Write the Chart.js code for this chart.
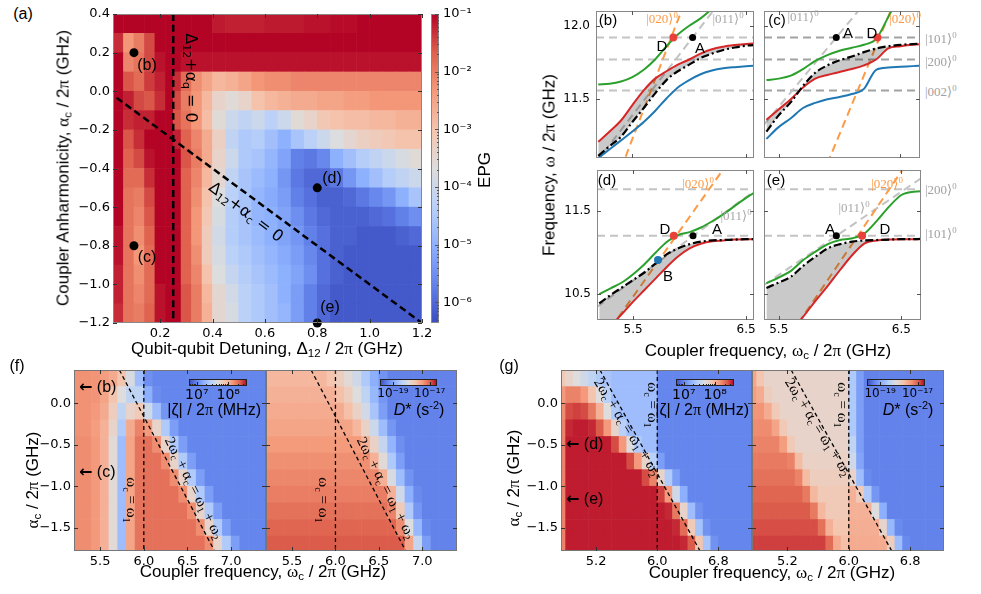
<!DOCTYPE html>
<html>
<head>
<meta charset="utf-8">
<script src="https://cdn.jsdelivr.net/npm/chart.js@4.4.1/dist/chart.umd.min.js"></script>
<style>
  html, body { margin: 0; padding: 0; background: #fff; }
  #fig { position: relative; width: 981px; height: 594px; overflow: hidden; font-family: 'Liberation Sans', Arial, sans-serif; }
  #fig canvas { position: absolute; }
  .t { position: absolute; white-space: nowrap; line-height: 1; color: #000; }
  .g { font-family: 'Liberation Serif', 'DejaVu Serif', serif; }
  sub { font-size: 68%; vertical-align: -0.3em; line-height: 0; }
  sup { font-size: 68%; vertical-align: 0.55em; line-height: 0; }
</style>
</head>
<body>
<div id="fig"></div>
<script>
// ---------- (a) EPG map ----------
const epgDetuningEdges = [0.02, 0.06, 0.10, 0.14, 0.18, 0.22, 0.25, 0.28, 0.32, 0.36, 0.40, 0.45, 0.50, 0.55, 0.60, 0.65, 0.70, 0.75, 0.80, 0.85, 0.90, 0.95, 1.00, 1.05, 1.10, 1.15, 1.20];
const epgAnharmEdges = [0.4, 0.3, 0.2, 0.1, 0.0, -0.1, -0.2, -0.3, -0.4, -0.5, -0.6, -0.7, -0.8, -0.9, -1.0, -1.1, -1.2];
// log10(EPG), one row per anharmonicity band (top to bottom)
const epgLog10 = [
  [-1, -1, -1, -1, -1, -1, -1, -1, -1, -1, -1.15, -1.2, -1.2, -1.2, -1.15, -1.15, -1.15, -1.1, -1.1, -1.05, -1.05, -1, -1, -1, -1, -1],
  [-1.3, -2.3, -2.0, -1.5, -1, -1, -1, -1, -1, -1, -1, -1, -1, -1, -1, -1, -1, -1, -1, -1, -1, -1, -1, -1, -1, -1],
  [-1, -2.1, -1.9, -1.5, -1.1, -1, -1, -1.1, -1.1, -1.1, -1.1, -1.1, -1.1, -1.1, -1.1, -1.1, -1.1, -1.1, -1.1, -1.1, -1.1, -1.1, -1.1, -1.1, -1.1, -1.1],
  [-1, -1.6, -1.8, -1.4, -1.2, -1, -1.3, -1.8, -2.2, -2.5, -2.8, -2.7, -2.5, -2.3, -2.2, -2.2, -2.1, -2.1, -2.1, -2.1, -2.1, -2.1, -2.1, -2.1, -2.1, -2.1],
  [-1, -1.2, -1.5, -1.6, -1.3, -1, -1.5, -2.0, -2.3, -2.8, -3.4, -3.6, -3.4, -3.0, -2.8, -2.7, -2.6, -2.6, -2.5, -2.5, -2.4, -2.4, -2.3, -2.3, -2.3, -2.3],
  [-1, -1.3, -1.2, -1.2, -1, -1, -1.6, -1.9, -2.3, -2.9, -3.6, -4.0, -4.2, -4.0, -4.3, -4.0, -3.6, -3.4, -3.1, -3.0, -2.9, -2.9, -2.8, -2.8, -2.7, -2.7],
  [-1, -1.6, -1.3, -1, -1, -1, -1.2, -1.7, -2.1, -2.6, -3.3, -4.2, -4.5, -4.4, -4.7, -5.0, -4.6, -4.3, -4.0, -3.7, -3.5, -3.3, -3.2, -3.1, -3.0, -3.0],
  [-1, -1.7, -1.5, -1.1, -1, -1, -1, -1.6, -2.0, -2.6, -3.4, -4.0, -4.5, -4.6, -4.9, -5.2, -5.7, -5.8, -5.6, -5.0, -4.7, -4.4, -4.2, -4.0, -3.8, -3.6],
  [-1, -1.8, -1.8, -1.3, -1, -1, -1, -1.7, -2.1, -2.8, -3.5, -4.2, -4.6, -4.8, -5.0, -5.4, -5.8, -6.0, -6.0, -5.8, -5.4, -5.0, -4.7, -4.4, -4.2, -4.0],
  [-1, -1.9, -2.0, -1.5, -1, -1, -1, -1.7, -2.2, -3.0, -3.7, -4.3, -4.6, -4.9, -5.1, -5.3, -5.7, -5.9, -6.1, -6.1, -6.0, -5.8, -5.6, -5.4, -5.0, -4.6],
  [-1, -1.9, -2.1, -1.6, -1, -1, -1, -1.7, -2.3, -3.1, -3.8, -4.4, -4.6, -4.9, -5.0, -5.2, -5.5, -5.8, -6.0, -6.1, -6.1, -6.1, -6.0, -5.9, -5.7, -5.5],
  [-1.1, -1.9, -2.2, -1.7, -1, -1, -1, -1.7, -2.3, -3.2, -3.9, -4.4, -4.6, -4.8, -5.0, -5.2, -5.4, -5.7, -5.9, -6.1, -6.1, -6.2, -6.2, -6.2, -6.1, -6.0],
  [-1.1, -1.9, -2.3, -1.8, -1, -1, -1, -1.7, -2.2, -3.2, -3.8, -4.3, -4.5, -4.7, -4.9, -5.1, -5.3, -5.6, -5.9, -6.1, -6.2, -6.2, -6.2, -6.2, -6.2, -6.2],
  [-1.2, -1.9, -2.2, -1.8, -1, -1, -1, -1.7, -2.1, -3.0, -3.7, -4.1, -4.4, -4.6, -4.8, -5.0, -5.2, -5.5, -5.9, -6.1, -6.2, -6.2, -6.2, -6.2, -6.2, -6.2],
  [-1.2, -1.9, -2.1, -1.8, -1.1, -1, -1, -1.6, -2.0, -2.8, -3.5, -3.9, -4.3, -4.5, -4.7, -5.0, -5.3, -5.7, -6.0, -6.2, -6.2, -6.2, -6.2, -6.2, -6.2, -6.2],
  [-1.3, -1.9, -2.0, -1.7, -1.1, -1, -1, -1.6, -2.0, -2.7, -3.5, -3.8, -4.3, -4.5, -4.7, -4.9, -5.3, -5.7, -6.0, -6.2, -6.2, -6.2, -6.2, -6.2, -6.2, -6.2]
];
const epgRange = [-6.36, -1];
const epgTickExp = [-1, -2, -3, -4, -5, -6];
const detuningTicks = [0.2, 0.4, 0.6, 0.8, 1.0, 1.2];
const anharmTicksA = [0.4, 0.2, 0.0, -0.2, -0.4, -0.6, -0.8, -1.0, -1.2];
const qubitLineX = [0.25, 0.25], qubitLineY = [0.4, -1.2];
const couplerLineX = [0.0, 1.2], couplerLineY = [0.0, -1.2];
const workPointX = [0.1, 0.1, 0.8, 0.8], workPointY = [0.2, -0.8, -0.5, -1.2];

// ---------- (b)-(e) spectra ----------
const gridBD = [5.2, 5.3, 5.4, 5.5, 5.6, 5.7, 5.8, 5.9, 6.0, 6.1, 6.2, 6.3, 6.4, 6.5, 6.6];
const gridCE = [5.4, 5.5, 5.6, 5.7, 5.8, 5.9, 6.0, 6.1, 6.2, 6.3, 6.4, 6.5, 6.6, 6.7];
const greenB = [11.60, 11.605, 11.62, 11.65, 11.70, 11.77, 11.86, 11.94, 12.00, 12.05, 12.115, 12.19, 12.27, 12.35, 12.43];
const redB   = [11.21, 11.28, 11.355, 11.46, 11.56, 11.64, 11.69, 11.735, 11.77, 11.81, 11.84, 11.857, 11.868, 11.876, 11.88];
const blackB = [11.115, 11.18, 11.245, 11.345, 11.44, 11.54, 11.63, 11.69, 11.735, 11.78, 11.81, 11.835, 11.852, 11.864, 11.87];
const blueB  = [11.10, 11.16, 11.22, 11.28, 11.345, 11.42, 11.505, 11.58, 11.63, 11.67, 11.695, 11.71, 11.718, 11.724, 11.728];
const greenC = [11.63, 11.64, 11.66, 11.705, 11.76, 11.80, 11.83, 11.85, 11.87, 11.91, 12.06, 12.22, 12.40, 12.58];
const redC   = [11.36, 11.43, 11.50, 11.58, 11.64, 11.665, 11.685, 11.705, 11.73, 11.77, 11.845, 11.86, 11.87, 11.875];
const blackC = [11.28, 11.39, 11.48, 11.59, 11.68, 11.73, 11.765, 11.79, 11.82, 11.845, 11.86, 11.87, 11.875, 11.88];
const blueC  = [11.23, 11.31, 11.37, 11.44, 11.475, 11.50, 11.515, 11.535, 11.57, 11.70, 11.715, 11.72, 11.725, 11.73];
const greenD = [10.50, 10.57, 10.64, 10.74, 10.86, 11.00, 11.13, 11.21, 11.245, 11.30, 11.375, 11.46, 11.56, 11.655, 11.74];
const blackD = [10.39, 10.49, 10.58, 10.67, 10.76, 10.87, 10.98, 11.05, 11.10, 11.13, 11.145, 11.15, 11.155, 11.16, 11.16];
const redD   = [9.98, 10.12, 10.26, 10.41, 10.55, 10.69, 10.83, 10.955, 11.05, 11.105, 11.135, 11.145, 11.155, 11.16, 11.16];
const greenE = [10.63, 10.70, 10.78, 10.91, 11.01, 11.10, 11.15, 11.17, 11.23, 11.38, 11.55, 11.69, 11.73, 11.735];
const blackE = [10.575, 10.64, 10.71, 10.84, 10.95, 11.05, 11.10, 11.13, 11.145, 11.15, 11.155, 11.16, 11.16, 11.165];
const redE   = [9.68, 9.87, 10.05, 10.23, 10.42, 10.60, 10.79, 10.97, 11.11, 11.145, 11.155, 11.16, 11.16, 11.165];
const levelsBC = [11.92, 11.77, 11.56];
const levelsDE = [11.76, 11.20];
const ket020B = { x: [5.4, 6.0], y: [11.027, 12.24] },  ket011B = { x: [5.18, 6.3], y: [11.07, 12.19] };
const ket020C = { x: [5.9, 6.45], y: [11.062, 12.162] }, ket011C = { x: [5.38, 6.2], y: [11.327, 12.147] };
const ket020D = { x: [5.3, 6.35], y: [10.089, 12.098] }, ket011D = { x: [5.18, 6.57], y: [10.346, 11.736] };
const ket020E = { x: [5.6, 6.6], y: [10.02, 12.19] },   ket011E = { x: [5.38, 6.66], y: [10.61, 11.89] };
const crossB = { dX: [5.86], dY: [11.92], aX: [6.03], aY: [11.92] };
const crossC = { dX: [6.311], dY: [11.92], aX: [5.973], aY: [11.92] };
const crossD = { dX: [5.86], dY: [11.20], aX: [6.03], aY: [11.20], bX: [5.72], bY: [10.91] };
const crossE = { dX: [6.18], dY: [11.20], aX: [5.97], aY: [11.20] };
const freqTicksBD = [5.5, 6.5];
const upperFreqTicks = [11.5, 12.0], lowerFreqTicks = [10.5, 11.5];

// ---------- (f), (g) maps ----------
const fCouplerEdges = [5.2, 5.3, 5.4, 5.5, 5.6, 5.7, 5.8, 5.9, 6.0, 6.1, 6.2, 6.3, 6.4, 6.5, 6.6, 6.7, 6.8, 6.9, 7.0, 7.1, 7.2, 7.3, 7.4];
const gCouplerEdges = [4.7, 4.8, 4.9, 5.0, 5.1, 5.2, 5.3, 5.4, 5.5, 5.6, 5.7, 5.8, 5.9, 6.0, 6.1, 6.2, 6.3, 6.4, 6.5, 6.6, 6.7, 6.8, 6.9, 7.0, 7.1, 7.2, 7.3];
const fgAnharmEdges = [0.4, 0.2, 0.0, -0.2, -0.4, -0.6, -0.8, -1.0, -1.2, -1.4, -1.6, -1.8];
// log10 |zeta|/2pi, (f) left
const zetaF = [
  [8.17, 8.17, 8.16, 8.12, 8.05, 7.90, 7.64, 7.31, 7.05, 7.0, 7.0, 7.0, 7.0, 7.0, 7.0, 7.0, 7.0, 7.0, 7.0, 7.0, 7.0, 7.0],
  [8.17, 8.17, 8.16, 8.08, 7.90, 7.68, 7.49, 7.49, 7.21, 7.03, 7.0, 7.0, 7.0, 7.0, 7.0, 7.0, 7.0, 7.0, 7.0, 7.0, 7.0, 7.0],
  [8.17, 8.17, 8.14, 8.05, 7.82, 7.49, 7.77, 7.86, 7.58, 7.31, 7.08, 7.0, 7.0, 7.0, 7.0, 7.0, 7.0, 7.0, 7.0, 7.0, 7.0, 7.0],
  [8.17, 8.17, 8.12, 8.01, 7.77, 7.40, 8.05, 8.23, 8.14, 7.77, 7.40, 7.12, 7.0, 7.0, 7.0, 7.0, 7.0, 7.0, 7.0, 7.0, 7.0, 7.0],
  [8.19, 8.19, 8.14, 8.01, 7.71, 7.31, 8.08, 8.29, 8.30, 8.19, 7.77, 7.40, 7.12, 7.0, 7.0, 7.0, 7.0, 7.0, 7.0, 7.0, 7.0, 7.0],
  [8.19, 8.19, 8.14, 8.01, 7.71, 7.31, 8.08, 8.29, 8.30, 8.30, 8.19, 7.77, 7.40, 7.12, 7.0, 7.0, 7.0, 7.0, 7.0, 7.0, 7.0, 7.0],
  [8.19, 8.19, 8.14, 8.01, 7.71, 7.31, 8.08, 8.29, 8.30, 8.30, 8.30, 8.19, 7.77, 7.40, 7.12, 7.0, 7.0, 7.0, 7.0, 7.0, 7.0, 7.0],
  [8.19, 8.19, 8.14, 8.01, 7.71, 7.31, 8.08, 8.29, 8.30, 8.30, 8.30, 8.30, 8.19, 7.77, 7.40, 7.12, 7.0, 7.0, 7.0, 7.0, 7.0, 7.0],
  [8.19, 8.19, 8.14, 8.01, 7.71, 7.31, 8.08, 8.29, 8.30, 8.30, 8.30, 8.30, 8.30, 8.19, 7.77, 7.40, 7.12, 7.0, 7.0, 7.0, 7.0, 7.0],
  [8.19, 8.19, 8.14, 8.01, 7.71, 7.31, 8.08, 8.29, 8.30, 8.30, 8.30, 8.30, 8.30, 8.30, 8.19, 7.77, 7.40, 7.12, 7.0, 7.0, 7.0, 7.0],
  [8.19, 8.19, 8.14, 8.01, 7.71, 7.31, 8.08, 8.29, 8.30, 8.30, 8.30, 8.30, 8.30, 8.30, 8.30, 8.19, 7.77, 7.40, 7.12, 7.0, 7.0, 7.0]
];
// log10 D*, (f) right
const dstarF = [
  [-17.65, -17.65, -17.65, -17.65, -17.65, -17.65, -17.65, -17.78, -17.90, -18.09, -18.31, -18.62, -18.93, -19.17, -19.3, -19.3, -19.3, -19.3, -19.3, -19.3, -19.3, -19.3],
  [-17.59, -17.59, -17.59, -17.59, -17.59, -17.59, -17.59, -17.59, -17.72, -17.90, -18.15, -18.46, -18.83, -19.14, -19.3, -19.3, -19.3, -19.3, -19.3, -19.3, -19.3, -19.3],
  [-17.53, -17.53, -17.53, -17.53, -17.53, -17.53, -17.53, -17.53, -17.53, -17.72, -17.96, -18.27, -18.68, -19.08, -19.3, -19.3, -19.3, -19.3, -19.3, -19.3, -19.3, -19.3],
  [-17.47, -17.47, -17.47, -17.47, -17.47, -17.47, -17.47, -17.47, -17.47, -17.47, -17.65, -17.96, -18.34, -18.77, -19.14, -19.3, -19.3, -19.3, -19.3, -19.3, -19.3, -19.3],
  [-17.38, -17.38, -17.38, -17.38, -17.38, -17.38, -17.38, -17.38, -17.38, -17.38, -17.38, -17.59, -17.96, -18.40, -18.86, -19.2, -19.3, -19.3, -19.3, -19.3, -19.3, -19.3],
  [-17.31, -17.31, -17.31, -17.31, -17.31, -17.31, -17.31, -17.31, -17.31, -17.31, -17.31, -17.31, -17.59, -18.09, -18.62, -19.08, -19.3, -19.3, -19.3, -19.3, -19.3, -19.3],
  [-17.25, -17.25, -17.25, -17.25, -17.25, -17.25, -17.25, -17.25, -17.25, -17.25, -17.25, -17.25, -17.25, -17.59, -18.21, -18.77, -19.17, -19.3, -19.3, -19.3, -19.3, -19.3],
  [-17.19, -17.19, -17.19, -17.19, -17.19, -17.19, -17.19, -17.19, -17.19, -17.19, -17.19, -17.19, -17.19, -17.19, -17.59, -18.31, -18.93, -19.24, -19.3, -19.3, -19.3, -19.3],
  [-17.10, -17.10, -17.10, -17.10, -17.10, -17.10, -17.10, -17.10, -17.10, -17.10, -17.10, -17.10, -17.10, -17.10, -17.22, -17.84, -18.62, -19.14, -19.3, -19.3, -19.3, -19.3],
  [-17.03, -17.03, -17.03, -17.03, -17.03, -17.03, -17.03, -17.03, -17.03, -17.03, -17.03, -17.03, -17.03, -17.03, -17.03, -17.28, -18.15, -18.83, -19.24, -19.3, -19.3, -19.3],
  [-16.97, -16.97, -16.97, -16.97, -16.97, -16.97, -16.97, -16.97, -16.97, -16.97, -16.97, -16.97, -16.97, -16.97, -16.97, -16.97, -17.47, -18.40, -19.08, -19.3, -19.3, -19.3]
];
// log10 |zeta|/2pi, (g) left
const zetaG = [
  [7.86, 7.77, 7.68, 7.58, 7.49, 7.40, 7.36, 7.31, 7.31, 7.31, 7.31, 7.31, 7.31, 7.0, 7.0, 7.0, 7.0, 7.0, 7.0, 7.0, 7.0, 7.0, 7.0, 7.0, 7.0, 7.0],
  [8.14, 8.23, 8.23, 8.14, 7.90, 7.68, 7.45, 7.31, 7.31, 7.31, 7.31, 7.31, 7.31, 7.0, 7.0, 7.0, 7.0, 7.0, 7.0, 7.0, 7.0, 7.0, 7.0, 7.0, 7.0, 7.0],
  [8.19, 8.42, 8.45, 8.42, 8.27, 8.01, 7.68, 7.40, 7.31, 7.31, 7.31, 7.31, 7.31, 7.0, 7.0, 7.0, 7.0, 7.0, 7.0, 7.0, 7.0, 7.0, 7.0, 7.0, 7.0, 7.0],
  [8.23, 8.51, 8.54, 8.54, 8.51, 8.38, 8.14, 7.77, 7.45, 7.31, 7.31, 7.31, 7.31, 7.0, 7.0, 7.0, 7.0, 7.0, 7.0, 7.0, 7.0, 7.0, 7.0, 7.0, 7.0, 7.0],
  [8.23, 8.54, 8.54, 8.54, 8.54, 8.54, 8.54, 8.42, 8.14, 7.68, 7.40, 7.31, 7.31, 7.0, 7.0, 7.0, 7.0, 7.0, 7.0, 7.0, 7.0, 7.0, 7.0, 7.0, 7.0, 7.0],
  [8.23, 8.54, 8.54, 8.54, 8.54, 8.54, 8.54, 8.54, 8.54, 8.42, 8.14, 7.77, 7.45, 7.12, 7.0, 7.0, 7.0, 7.0, 7.0, 7.0, 7.0, 7.0, 7.0, 7.0, 7.0, 7.0],
  [8.23, 8.54, 8.54, 8.54, 8.54, 8.54, 8.54, 8.54, 8.54, 8.54, 8.54, 8.42, 8.23, 7.77, 7.40, 7.12, 7.0, 7.0, 7.0, 7.0, 7.0, 7.0, 7.0, 7.0, 7.0, 7.0],
  [8.23, 8.54, 8.54, 8.54, 8.54, 8.54, 8.54, 8.54, 8.54, 8.54, 8.54, 8.54, 8.54, 8.45, 8.14, 7.58, 7.21, 7.0, 7.0, 7.0, 7.0, 7.0, 7.0, 7.0, 7.0, 7.0],
  [8.23, 8.54, 8.54, 8.54, 8.54, 8.54, 8.54, 8.54, 8.54, 8.54, 8.54, 8.54, 8.54, 8.54, 8.51, 8.27, 7.77, 7.31, 7.06, 7.0, 7.0, 7.0, 7.0, 7.0, 7.0, 7.0],
  [8.23, 8.54, 8.54, 8.54, 8.54, 8.54, 8.54, 8.54, 8.54, 8.54, 8.54, 8.54, 8.54, 8.54, 8.54, 8.51, 8.32, 7.86, 7.34, 7.06, 7.0, 7.0, 7.0, 7.0, 7.0, 7.0],
  [8.23, 8.54, 8.54, 8.54, 8.54, 8.54, 8.54, 8.54, 8.54, 8.54, 8.54, 8.54, 8.54, 8.54, 8.54, 8.54, 8.51, 8.38, 7.90, 7.36, 7.06, 7.0, 7.0, 7.0, 7.0, 7.0]
];
// log10 D*, (g) right
const dstarG = [
  [-17.47, -17.78, -17.99, -17.99, -17.99, -17.99, -17.99, -17.99, -17.99, -17.99, -17.99, -17.99, -17.99, -18.62, -19.08, -19.3, -19.3, -19.3, -19.3, -19.3, -19.3, -19.3, -19.3, -19.3, -19.3, -19.3],
  [-17.41, -17.53, -17.90, -17.99, -17.99, -17.99, -17.99, -17.99, -17.99, -17.99, -17.99, -17.99, -17.99, -18.62, -19.08, -19.3, -19.3, -19.3, -19.3, -19.3, -19.3, -19.3, -19.3, -19.3, -19.3, -19.3],
  [-17.34, -17.34, -17.53, -17.84, -17.99, -17.99, -17.99, -17.99, -17.99, -17.99, -17.99, -17.99, -17.99, -18.62, -19.08, -19.3, -19.3, -19.3, -19.3, -19.3, -19.3, -19.3, -19.3, -19.3, -19.3, -19.3],
  [-17.28, -17.28, -17.28, -17.47, -17.84, -17.99, -17.99, -17.99, -17.99, -17.99, -17.99, -17.99, -17.99, -18.62, -19.08, -19.3, -19.3, -19.3, -19.3, -19.3, -19.3, -19.3, -19.3, -19.3, -19.3, -19.3],
  [-17.22, -17.22, -17.22, -17.22, -17.41, -17.84, -17.99, -17.99, -17.99, -17.99, -17.99, -17.99, -17.99, -18.46, -19.08, -19.3, -19.3, -19.3, -19.3, -19.3, -19.3, -19.3, -19.3, -19.3, -19.3, -19.3],
  [-17.16, -17.16, -17.16, -17.16, -17.16, -17.22, -17.69, -17.96, -17.96, -17.96, -17.96, -17.96, -17.96, -18.31, -19.02, -19.3, -19.3, -19.3, -19.3, -19.3, -19.3, -19.3, -19.3, -19.3, -19.3, -19.3],
  [-17.10, -17.10, -17.10, -17.10, -17.10, -17.10, -17.22, -17.69, -17.90, -17.90, -17.90, -17.90, -17.90, -17.99, -18.77, -19.24, -19.3, -19.3, -19.3, -19.3, -19.3, -19.3, -19.3, -19.3, -19.3, -19.3],
  [-17.03, -17.03, -17.03, -17.03, -17.03, -17.03, -17.03, -17.16, -17.65, -17.84, -17.84, -17.84, -17.84, -17.59, -17.84, -18.62, -19.14, -19.3, -19.3, -19.3, -19.3, -19.3, -19.3, -19.3, -19.3, -19.3],
  [-16.97, -16.97, -16.97, -16.97, -16.97, -16.97, -16.97, -16.97, -17.16, -17.65, -17.84, -17.84, -17.84, -17.59, -17.59, -17.59, -18.15, -18.93, -19.3, -19.3, -19.3, -19.3, -19.3, -19.3, -19.3, -19.3],
  [-16.91, -16.91, -16.91, -16.91, -16.91, -16.91, -16.91, -16.91, -16.91, -17.10, -17.59, -17.78, -17.78, -17.56, -17.56, -17.56, -17.56, -17.99, -18.83, -19.24, -19.3, -19.3, -19.3, -19.3, -19.3, -19.3],
  [-16.85, -16.85, -16.85, -16.85, -16.85, -16.85, -16.85, -16.85, -16.85, -16.85, -17.07, -17.53, -17.72, -17.53, -17.53, -17.53, -17.53, -17.53, -17.90, -18.77, -19.24, -19.3, -19.3, -19.3, -19.3, -19.3]
];
const zetaRange = [6.75, 8.6], dstarRange = [-19.7, -16.6];
const zetaTickExp = [7, 8], dstarTickExp = [-19, -17];
const fFreqTicks = [5.5, 6.0, 6.5, 7.0], gFreqTicks = [5.2, 6.0, 6.8];
const fgAnharmTicks = [0.0, -0.5, -1.0, -1.5];
const omega1 = 6.0;
const sumLineY = [0.4, -1.78];
const sumLineF = [5.72, 6.81], sumLineG = [5.25, 6.56];

// ---------- helpers ----------
Chart.defaults.font.family = "'DejaVu Sans', sans-serif";
Chart.defaults.font.size = 13;
Chart.defaults.color = '#000';
Chart.defaults.plugins.legend.display = false;
Chart.defaults.plugins.tooltip.enabled = false;

const fig = document.getElementById('fig');
const CW = [[0, 59, 76, 192], [0.125, 98, 130, 234], [0.25, 141, 176, 254], [0.375, 184, 208, 249], [0.5, 221, 221, 221],
            [0.625, 245, 196, 173], [0.75, 244, 154, 123], [0.875, 222, 96, 77], [1, 180, 4, 38]];
function coolwarm(t) {
  t = Math.max(0, Math.min(1, t));
  for (let i = 1; i < CW.length; i++) {
    if (t <= CW[i][0]) {
      const a = CW[i - 1], b = CW[i], f = (t - a[0]) / (b[0] - a[0]);
      return 'rgb(' + [1, 2, 3].map(k => Math.round(a[k] + (b[k] - a[k]) * f)).join(',') + ')';
    }
  }
  return 'rgb(180,4,38)';
}
const SUP = { '-': '\u207B', '0': '\u2070', '1': '\u00B9', '2': '\u00B2', '3': '\u00B3', '4': '\u2074', '5': '\u2075', '6': '\u2076', '7': '\u2077', '8': '\u2078', '9': '\u2079' };
const pow10 = e => '10' + String(e).split('').map(c => SUP[c]).join('');
const fmtMinus = v => (v < -1e-9 ? '\u2212' : '') + Math.abs(v).toFixed(1);
const fmt1 = v => v.toFixed(1);

// matplotlib-like frame with inward ticks
const frameTicks = {
  id: 'frameTicks',
  afterDatasetsDraw(chart, args, opts) {
    const { ctx, chartArea: a } = chart;
    const sides = opts.sides || 'lrtb';
    ctx.save();
    ctx.strokeStyle = opts.frame || '#777';
    ctx.lineWidth = 1;
    ctx.strokeRect(a.left + 0.5, a.top + 0.5, a.width - 1, a.height - 1);
    ctx.strokeStyle = opts.tick || '#333';
    ctx.beginPath();
    Object.values(chart.scales).forEach(s => {
      if (!s.options.display) return;
      s.ticks.forEach(t => {
        const len = t.minor ? 2 : 4, p = Math.round(s.getPixelForValue(t.value)) + 0.5;
        if (s.isHorizontal()) {
          if (sides.includes('b')) { ctx.moveTo(p, a.bottom); ctx.lineTo(p, a.bottom - len); }
          if (sides.includes('t')) { ctx.moveTo(p, a.top); ctx.lineTo(p, a.top + len); }
        } else {
          if (sides.includes('l')) { ctx.moveTo(a.left, p); ctx.lineTo(a.left + len, p); }
          if (sides.includes('r')) { ctx.moveTo(a.right, p); ctx.lineTo(a.right - len, p); }
        }
      });
    });
    ctx.stroke();
    ctx.restore();
  }
};
Chart.register(frameTicks);

function heatLayer(xEdges, yEdges, rows, lo, hi) {
  return {
    id: 'heatLayer',
    beforeDatasetsDraw(chart) {
      const { ctx, chartArea: a, scales: { x, y } } = chart;
      ctx.save();
      ctx.beginPath(); ctx.rect(a.left, a.top, a.width, a.height); ctx.clip();
      rows.forEach((row, j) => {
        const y0 = y.getPixelForValue(yEdges[j]), y1 = y.getPixelForValue(yEdges[j + 1]);
        row.forEach((v, i) => {
          const x0 = x.getPixelForValue(xEdges[i]), x1 = x.getPixelForValue(xEdges[i + 1]);
          ctx.fillStyle = coolwarm((v - lo) / (hi - lo));
          ctx.fillRect(Math.min(x0, x1) - 0.3, Math.min(y0, y1) - 0.3, Math.abs(x1 - x0) + 0.6, Math.abs(y1 - y0) + 0.6);
        });
      });
      ctx.restore();
    }
  };
}
function gradientBar(vertical) {
  return {
    id: 'gradientBar',
    beforeDatasetsDraw(chart) {
      const { ctx, chartArea: a } = chart;
      const g = vertical ? ctx.createLinearGradient(0, a.bottom, 0, a.top) : ctx.createLinearGradient(a.left, 0, a.right, 0);
      for (let k = 0; k <= 16; k++) g.addColorStop(k / 16, coolwarm(k / 16));
      ctx.fillStyle = g;
      ctx.fillRect(a.left, a.top, a.width, a.height);
    }
  };
}

function axis(position, min, max, ticks, fmt, size, pad, fontSize, minor) {
  return {
    type: 'linear', position, min, max,
    grid: { display: false, drawTicks: false },
    border: { display: false },
    ticks: {
      autoSkip: false, maxRotation: 0, minRotation: 0, padding: pad, color: '#000',
      font: { size: fontSize || 13 },
      callback: (v, i, all) => (fmt && !all[i].minor) ? fmt(v) : ''
    },
    afterBuildTicks: s => {
      s.ticks = ticks.map(v => ({ value: v })).concat((minor || []).map(v => ({ value: v, minor: true })));
    },
    afterFit: s => {
      if (s.isHorizontal()) s.height = size; else s.width = size;
      s.paddingLeft = s.paddingRight = s.paddingTop = s.paddingBottom = 0;
    }
  };
}

function makeChart(area, pad, layoutPad, config) {
  const w = area[2] - area[0] + pad[0] + pad[2];
  const h = area[3] - area[1] + pad[1] + pad[3];
  const cv = document.createElement('canvas');
  cv.width = w; cv.height = h;
  cv.style.left = (area[0] - pad[0]) + 'px';
  cv.style.top = (area[1] - pad[1]) + 'px';
  fig.appendChild(cv);
  Object.assign(config.options, { responsive: false, animation: false, events: [], layout: { padding: layoutPad } });
  return new Chart(cv, config);
}
function plotBox(area, pad, xAx, yAx, datasets, plugins, frame) {
  return makeChart(area, pad, { left: 0, top: pad[1], right: pad[2], bottom: 0 }, {
    type: 'scatter',
    data: { datasets },
    options: { scales: { x: xAx, y: yAx }, plugins: { frameTicks: frame || {} } },
    plugins: plugins || []
  });
}
const pts = (xs, ys) => xs.map((x, i) => ({ x, y: ys[i] }));
function curve(xs, ys, style) {
  return Object.assign({ data: pts(xs, ys), showLine: true, pointRadius: 0, borderWidth: 2, fill: false, cubicInterpolationMode: 'monotone' }, style);
}
function dots(xs, ys, color, r) {
  return { data: pts(xs, ys), showLine: false, pointRadius: r, pointHoverRadius: r, backgroundColor: color, borderWidth: 0, pointBorderWidth: 0, clip: false, order: 0 };
}
function levelLines(levels, x0, x1, color) {
  return levels.map(v => curve([x0, x1], [v, v], { borderColor: color, borderWidth: 2, borderDash: [8, 5], order: 10 }));
}
function label(html, x, y, o) {
  o = o || {};
  const d = document.createElement('div');
  d.className = 't';
  d.innerHTML = html;
  d.style.left = x + 'px';
  d.style.top = y + 'px';
  d.style.fontSize = (o.size || 16) + 'px';
  if (o.font) d.style.fontFamily = o.font;
  if (o.color) d.style.color = o.color;
  const ax = o.ax === undefined ? 50 : o.ax;
  d.style.transform = 'translate(-' + ax + '%, -50%)' + (o.rot ? ' rotate(' + o.rot + 'deg)' : '');
  fig.appendChild(d);
}

// ---------- (a) ----------
plotBox([113, 14, 422, 323], [60, 8, 14, 24],
  axis('bottom', 0.02, 1.2, detuningTicks, fmt1, 24, 3),
  axis('left', -1.2, 0.4, anharmTicksA, fmtMinus, 60, 3),
  [
    curve(qubitLineX, qubitLineY, { borderColor: '#000', borderWidth: 2.5, borderDash: [7, 4] }),
    curve(couplerLineX, couplerLineY, { borderColor: '#000', borderWidth: 2.5, borderDash: [7, 4] }),
    dots(workPointX, workPointY, '#000', 4.5)
  ],
  [heatLayer(epgDetuningEdges, epgAnharmEdges, epgLog10, epgRange[0], epgRange[1])],
  { frame: '#888' });

// (a) colour bar
const epgMinor = [];
for (let e = -7; e <= -2; e++) for (let k = 2; k <= 9; k++) { const v = e + Math.log10(k); if (v > epgRange[0] && v < epgRange[1]) epgMinor.push(v); }
makeChart([431, 14, 439, 323], [0, 8, 42, 8], { left: 0, top: 8, right: 0, bottom: 8 }, {
  type: 'scatter', data: { datasets: [] },
  options: {
    scales: {
      x: { type: 'linear', display: false },
      y: axis('right', epgRange[0], epgRange[1], epgTickExp, pow10, 42, 4, 13, epgMinor)
    },
    plugins: { frameTicks: { frame: '#888', tick: '#555', sides: 'r' } }
  },
  plugins: [gradientBar(true)]
});

// ---------- (b)-(e) ----------
const colGreen = '#2ca02c', colRed = '#d62728', colBlue = '#1f77b4', colOrange = '#fd9a45', colKet = '#c2c2c2';
function spectrum(area, pad, xr, yr, xTicks, yTicks, showX, showY, c) {
  const sets = [
    curve(c.ket020.x, c.ket020.y, { borderColor: colOrange, borderWidth: 2, borderDash: [8, 5], order: 6 }),
    curve(c.ket011.x, c.ket011.y, { borderColor: colKet, borderWidth: 2, borderDash: [8, 5], order: 7 }),
    curve(c.xs, c.black, { borderColor: '#000', borderWidth: 2.2, borderDash: [8, 3, 2, 3], order: 2 }),
    curve(c.xs, c.green, { borderColor: colGreen, order: 3 })
  ];
  const blackIndex = 2;
  sets.push(curve(c.xs, c.red, { borderColor: colRed, order: 5, fill: { target: blackIndex }, backgroundColor: 'rgba(0,0,0,0.21)' }));
  if (c.blue) sets.push(curve(c.xs, c.blue, { borderColor: colBlue, order: 4 }));
  levelLines(c.levels, xr[0], xr[1], c.levelColor).forEach(s => sets.push(s));
  sets.push(dots(c.cross.dX, c.cross.dY, '#e8413a', 4));
  sets.push(dots(c.cross.aX, c.cross.aY, '#000', 3.5));
  if (c.cross.bX) sets.push(dots(c.cross.bX, c.cross.bY, colBlue, 4));
  return plotBox(area, pad,
    axis('bottom', xr[0], xr[1], xTicks, showX ? fmt1 : null, pad[3], 3, 12),
    axis('left', yr[0], yr[1], yTicks, showY ? fmt1 : null, pad[0], 6, 12),
    sets, [], { frame: '#888', tick: '#555' });
}
spectrum([596, 11, 754, 158], [40, 4, 4, 8], [5.18, 6.57], [11.1, 12.1], freqTicksBD, upperFreqTicks, false, true,
  { xs: gridBD, green: greenB, red: redB, black: blackB, blue: blueB, ket020: ket020B, ket011: ket011B, levels: levelsBC, levelColor: '#c4c4c4', cross: crossB });
spectrum([764, 11, 920, 158], [6, 4, 4, 8], [5.38, 6.66], [11.1, 12.1], freqTicksBD, upperFreqTicks, false, false,
  { xs: gridCE, green: greenC, red: redC, black: blackC, blue: blueC, ket020: ket020C, ket011: ket011C, levels: levelsBC, levelColor: '#a2a2a2', cross: crossC });
spectrum([597, 170, 754, 320], [40, 4, 4, 22], [5.18, 6.57], [10.19, 11.99], freqTicksBD, lowerFreqTicks, true, true,
  { xs: gridBD, green: greenD, red: redD, black: blackD, ket020: ket020D, ket011: ket011D, levels: levelsDE, levelColor: '#c4c4c4', cross: crossD });
spectrum([764, 170, 921, 320], [6, 4, 4, 22], [5.38, 6.66], [10.19, 11.99], freqTicksBD, lowerFreqTicks, true, false,
  { xs: gridCE, green: greenE, red: redE, black: blackE, ket020: ket020E, ket011: ket011E, levels: levelsDE, levelColor: '#c4c4c4', cross: crossE });

// ---------- (f), (g) ----------
function mapPanel(area, pad, xr, xTicks, showY, edges, rows, range, sumX) {
  return plotBox(area, pad,
    axis('bottom', xr[0], xr[1], xTicks, fmt1, pad[3], 3),
    axis('left', -1.78, 0.4, fgAnharmTicks, showY ? fmtMinus : null, pad[0], 3),
    [
      curve([omega1, omega1], sumLineY, { borderColor: '#000', borderWidth: 1.3, borderDash: [4, 3] }),
      curve(sumX, sumLineY, { borderColor: '#000', borderWidth: 1.3, borderDash: [4, 3] })
    ],
    [heatLayer(edges, fgAnharmEdges, rows, range[0], range[1])],
    { frame: '#777', tick: '#333' });
}
mapPanel([74, 370, 266, 551], [50, 6, 1, 22], [5.2, 7.4], fFreqTicks, true, fCouplerEdges, zetaF, zetaRange, sumLineF);
mapPanel([266, 370, 457, 551], [1, 6, 14, 22], [5.2, 7.4], fFreqTicks, false, fCouplerEdges, dstarF, dstarRange, sumLineF);
mapPanel([561, 370, 752, 551], [50, 6, 1, 22], [4.74, 7.24], gFreqTicks, true, gCouplerEdges, zetaG, zetaRange, sumLineG);
mapPanel([752, 370, 944, 551], [1, 6, 14, 22], [4.74, 7.24], gFreqTicks, false, gCouplerEdges, dstarG, dstarRange, sumLineG);

// inset colour bars
const zetaMinor = [];
for (let e = 6; e <= 8; e++) for (let k = 2; k <= 9; k++) { const v = e + Math.log10(k); if (v > zetaRange[0] && v < zetaRange[1]) zetaMinor.push(v); }
function insetBar(area, range, ticks, minor, size) {
  makeChart(area, [16, 2, 16, 16], { left: 16, top: 2, right: 16, bottom: 0 }, {
    type: 'scatter', data: { datasets: [] },
    options: {
      scales: {
        x: axis('bottom', range[0], range[1], ticks, pow10, 16, 1, size, minor),
        y: { type: 'linear', display: false }
      },
      plugins: { frameTicks: { frame: '#222', tick: '#222', sides: 'b' } }
    },
    plugins: [gradientBar(false)]
  });
}
insetBar([189, 379, 247, 386], zetaRange, zetaTickExp, zetaMinor, 14);
insetBar([380, 379, 437, 386], dstarRange, dstarTickExp, [], 12);
insetBar([676, 379, 734, 386], zetaRange, zetaTickExp, zetaMinor, 14);
insetBar([867, 379, 925, 386], dstarRange, dstarTickExp, [], 12);

// ---------- text ----------
const dv = "'DejaVu Sans', sans-serif", serif = "'Liberation Serif', 'DejaVu Serif', serif";
const pi = '<span class="g">\u03C0</span>', om = '<span class="g">\u03C9</span>', al = '<span class="g">\u03B1</span>';
// (a)
label('(a)', 23, 14, { size: 16 });
label('Qubit-qubit Detuning, \u0394<sub>12</sub> / 2' + pi + ' (GHz)', 267, 348, { size: 17 });
label('Coupler Anharmonicity, ' + al + '<sub>c</sub> / 2' + pi + ' (GHz)', 63, 168, { size: 17, rot: -90 });
label('EPG', 484, 170, { size: 17, rot: -90 });
label('\u0394<sub>12</sub>+\u03B1<sub>q</sub> = 0', 191, 78, { size: 16, font: dv, rot: 90 });
label('\u0394<sub>12</sub>+\u03B1<sub>c</sub> = 0', 246, 212, { size: 16, font: dv, rot: 37 });
label('(b)', 147, 65); label('(c)', 147, 257); label('(d)', 332, 178); label('(e)', 330, 307);
// (b)-(e)
label('Frequency, ' + om + ' / 2' + pi + ' (GHz)', 549, 165, { size: 17, rot: -90 });
label('Coupler frequency, ' + om + '<sub>c</sub> / 2' + pi + ' (GHz)', 768, 350, { size: 17 });
label('(b)', 608, 19, { size: 15 }); label('(c)', 777, 19, { size: 15 });
label('(d)', 607, 179, { size: 15 }); label('(e)', 776, 179, { size: 15 });
const ket = s => '|' + s + '\u27E9<sup>0</sup>';
label(ket('020'), 662, 18, { size: 13, font: serif, color: colOrange });
label(ket('011'), 728, 18, { size: 13, font: serif, color: '#a8a8a8' });
label('D', 662, 45, { size: 15 }); label('A', 700, 47, { size: 15 });
label(ket('011'), 803, 16, { size: 13, font: serif, color: '#a8a8a8' });
label(ket('020'), 905, 18, { size: 13, font: serif, color: colOrange });
label('A', 848, 32, { size: 15 }); label('D', 872, 32, { size: 15 });
label(ket('101'), 925, 38, { size: 13, font: serif, color: '#a0a0a0', ax: 0 });
label(ket('200'), 925, 61, { size: 13, font: serif, color: '#a0a0a0', ax: 0 });
label(ket('002'), 925, 91, { size: 13, font: serif, color: '#a0a0a0', ax: 0 });
label(ket('020'), 698, 183, { size: 13, font: serif, color: colOrange });
label(ket('011'), 736, 215, { size: 13, font: serif, color: '#a8a8a8' });
label('D', 665, 228, { size: 15 }); label('A', 717, 228, { size: 15 }); label('B', 668, 275, { size: 15 });
label(ket('020'), 887, 183, { size: 13, font: serif, color: colOrange });
label(ket('011'), 854, 207, { size: 13, font: serif, color: '#a8a8a8' });
label('A', 830, 228, { size: 15 }); label('D', 885, 228, { size: 15 });
label(ket('200'), 925, 189, { size: 13, font: serif, color: '#a0a0a0', ax: 0 });
label(ket('101'), 925, 233, { size: 13, font: serif, color: '#a0a0a0', ax: 0 });
// (f), (g)
label('(f)', 17, 366, { size: 16 });
label('(g)', 509, 366, { size: 16 });
label(al + '<sub>c</sub> / 2' + pi + ' (GHz)', 32, 480, { size: 17, rot: -90 });
label(al + '<sub>c</sub> / 2' + pi + ' (GHz)', 513, 478, { size: 17, rot: -90 });
label('Coupler frequency, ' + om + '<sub>c</sub> / 2' + pi + ' (GHz)', 263, 571, { size: 17 });
label('Coupler frequency, ' + om + '<sub>c</sub> / 2' + pi + ' (GHz)', 772, 572, { size: 17 });
const arrow = '<span style="font-family:' + dv + ';font-weight:bold">\u2190</span> ';
label(arrow + '(b)', 79, 387, { ax: 0 }); label(arrow + '(c)', 79, 472, { ax: 0 });
label(arrow + '(d)', 566, 444, { ax: 0 }); label(arrow + '(e)', 566, 499, { ax: 0 });
const res1 = '\u03C9<sub>c</sub> = \u03C9<sub>1</sub>';
const res2 = '2\u03C9<sub>c</sub> + \u03B1<sub>c</sub> = \u03C9<sub>1</sub> + \u03C9<sub>2</sub>';
label(res1, 131, 500, { size: 15, font: serif, rot: 90 });
label(res1, 323, 500, { size: 15, font: serif, rot: 90 });
label(res1, 652, 405, { size: 15, font: serif, rot: 90 });
label(res1, 842, 405, { size: 15, font: serif, rot: 90 });
label(res2, 194, 488, { size: 15, font: serif, rot: 63 });
label(res2, 386, 488, { size: 15, font: serif, rot: 63 });
label(res2, 627, 427, { size: 15, font: serif, rot: 58 });
label(res2, 818, 427, { size: 15, font: serif, rot: 58 });
label('|\u03B6| / 2' + pi + ' (MHz)', 261, 410, { size: 16, ax: 100 });
label('|\u03B6| / 2' + pi + ' (MHz)', 749, 410, { size: 16, ax: 100 });
label('<i>D</i>* (s<sup>-2</sup>)', 419, 410, { size: 16 });
label('<i>D</i>* (s<sup>-2</sup>)', 908, 410, { size: 16 });
</script>
</body>
</html>
